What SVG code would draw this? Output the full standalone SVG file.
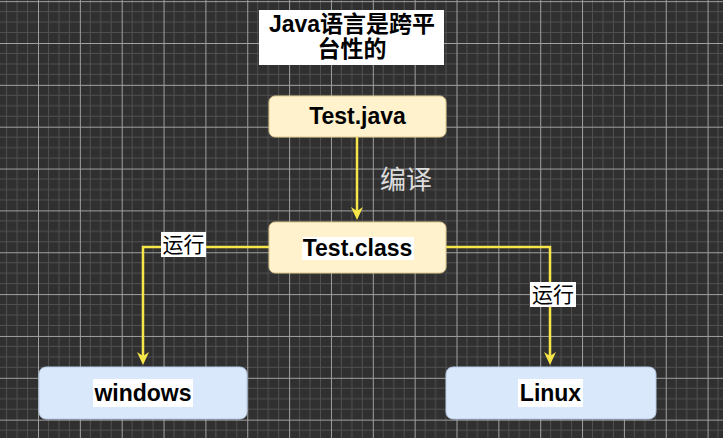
<svg xmlns="http://www.w3.org/2000/svg" width="723" height="438" viewBox="0 0 723 438">
  <defs>
    <pattern id="grid" patternUnits="userSpaceOnUse" x="38" y="43" width="41.85" height="41.85">
      <rect width="41.85" height="41.85" fill="#303030"/>
      <path d="M10.46,0V41.85M20.93,0V41.85M31.39,0V41.85M0,10.46H41.85M0,20.93H41.85M0,31.39H41.85" stroke="#505050" stroke-width="1" fill="none"/>
      <path d="M0.5,0V41.85M0,0.5H41.85" stroke="#a0a0a0" stroke-width="1" fill="none"/>
    </pattern>
    <marker id="arrow" markerUnits="userSpaceOnUse" markerWidth="16" markerHeight="14" refX="9" refY="6.5" orient="auto">
      <path d="M0,0.5 L13,6.5 L0,12.5 L4,6.5 Z" fill="#f7e64a"/>
    </marker>
    <style>
      .yellow { fill: #fff2cc; stroke: #e0c98c; stroke-width: 1; }
      .blue { fill: #dae8fc; stroke: #b8cbe6; stroke-width: 1; }
      .lbl { font-family: "Liberation Sans", "Noto Sans CJK SC", sans-serif; font-weight: bold; font-size: 23px; fill: #000; text-anchor: middle; }
      .edge { fill: none; stroke: #f7e64a; stroke-width: 2.5; marker-end: url(#arrow); }
      .elbl { font-family: "Liberation Sans", "Noto Sans CJK SC", sans-serif; font-size: 21px; fill: #000; text-anchor: middle; }
      .wbg { fill: #ffffff; }
    </style>
  </defs>
  <rect width="723" height="438" fill="url(#grid)"/>

  <g id="title">
    <rect x="259" y="10" width="185" height="55" fill="#ffffff"/>
    <text class="lbl" x="352" y="32">Java语言是跨平</text>
    <text class="lbl" x="352" y="57">台性的</text>
  </g>

  <g id="connectors">
    <path class="edge" d="M357,137 V216"/>
    <text x="380" y="189" font-family="'Liberation Sans', 'Noto Sans CJK SC', sans-serif" font-size="26" fill="#dcdcdc">编译</text>
    <path class="edge" d="M269,247 H143 V361"/>
    <rect class="wbg" x="161" y="232" width="45" height="25"/>
    <text class="elbl" x="183.5" y="252">运行</text>
    <path class="edge" d="M446,247 H550 V361"/>
    <rect class="wbg" x="530" y="282" width="46" height="25"/>
    <text class="elbl" x="553" y="302">运行</text>
  </g>

  <g id="test-java">
    <rect class="yellow" x="269" y="96" width="177" height="41" rx="6"/>
    <text class="lbl" x="357.5" y="124">Test.java</text>
  </g>

  <g id="test-class">
    <rect class="yellow" x="269" y="222" width="177" height="51" rx="6"/>
    <rect class="wbg" x="302" y="237" width="112" height="23"/>
    <text class="lbl" x="357.5" y="256">Test.class</text>
  </g>

  <g id="windows">
    <rect class="blue" x="39" y="367" width="208" height="52" rx="7"/>
    <rect class="wbg" x="93" y="379" width="100" height="28"/>
    <text class="lbl" x="143" y="401">windows</text>
  </g>

  <g id="linux">
    <rect class="blue" x="446" y="367" width="210" height="52" rx="7"/>
    <rect class="wbg" x="518" y="379" width="65" height="28"/>
    <text class="lbl" x="550.5" y="401">Linux</text>
  </g>
</svg>
